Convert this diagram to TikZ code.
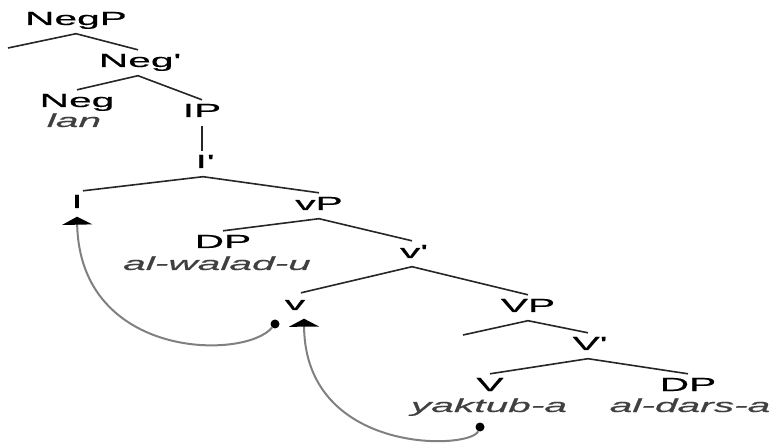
\documentclass[tikz,border=0pt]{standalone}
\usepackage{fontspec}
\setmainfont{Liberation Sans}[FakeStretch=2.15,FakeBold=0.6]
\usetikzlibrary{arrows.meta}
\newcommand{\pr}{\textquotesingle}

\begin{document}
\begin{tikzpicture}[x=1bp,y=-1bp,
    font=\fontsize{19}{20}\selectfont,
    cat/.style={anchor=base,inner xsep=2bp,inner ysep=4bp,text height=13bp,text depth=4.5bp},
    word/.style={anchor=base,font=\fontsize{19}{20}\selectfont\itshape,text=black!75},
    branch/.style={line width=1.6bp,black!85},
    move/.style={line width=2bp,black!50,-{Triangle[width=30bp,length=8bp,color=black]}},
    dot/.style={circle,fill=black,inner sep=0pt,minimum size=9bp}]
    \useasboundingbox (0,0) rectangle (770,443);
    \node[cat] (negp) at (76,25) {NegP};
    \node[cat] (negbar) at (138,67) {Neg\pr};
    \node[cat] (neg) at (77,107) {Neg};
    \node[word] (lan) at (74,127) {lan};
    \node[cat] (ip) at (202,117) {IP};
    \node[cat] (ibar) at (203,168) {I\pr};
    \node[cat] (i) at (77,208) {I};
    \node[cat] (vsp) at (319,210) {vP};
    \node[cat] (dpa) at (223,248) {DP};
    \node[word] (walad) at (217,270) {al-walad-u};
    \node[cat] (vsbar) at (412,258) {v\pr};
    \node[cat] (vs) at (295,310) {v};
    \node[cat] (vbp) at (528,312) {VP};
    \node[cat] (vbbar) at (588,350) {V\pr};
    \node[cat] (vb) at (490,391) {V};
    \node[word] (yaktub) at (489,412) {yaktub-a};
    \node[cat] (dpb) at (688,391) {DP};
    \node[word] (dars) at (690,412) {al-dars-a};
    \coordinate (spa) at (8,48);
    \coordinate (spb) at (463,335);
    \node[dot] (ta) at (275,324) {};
    \node[dot] (tb) at (480,427) {};

    \draw[branch] (negp.south) -- (spa);
    \draw[branch] (negp.south) -- (negbar.north);
    \draw[branch] (negbar.south) -- (neg.north);
    \draw[branch] (negbar.south) -- (ip.north);
    \draw[branch] (ip.south) -- (ip.south |- ibar.north);
    \draw[branch] (ibar.south) -- ([xshift=6bp]i.north);
    \draw[branch] (ibar.south) -- (vsp.north);
    \draw[branch] (vsp.south) -- (dpa.north);
    \draw[branch] (vsp.south) -- (vsbar.north);
    \draw[branch] (vsbar.south) -- ([xshift=6bp]vs.north);
    \draw[branch] (vsbar.south) -- (vbp.north);
    \draw[branch] (vbp.south) -- (spb);
    \draw[branch] (vbp.south) -- (vbbar.north);
    \draw[branch] (vbbar.south) -- (vb.north);
    \draw[branch] (vbbar.south) -- (dpb.north);

    \draw[move] (ta) .. controls (245,360) and (80,360) .. (i.south);
    \draw[move] (tb) .. controls (470,450) and (305,455) .. ([xshift=9bp]vs.south);
\end{tikzpicture}
\end{document}
